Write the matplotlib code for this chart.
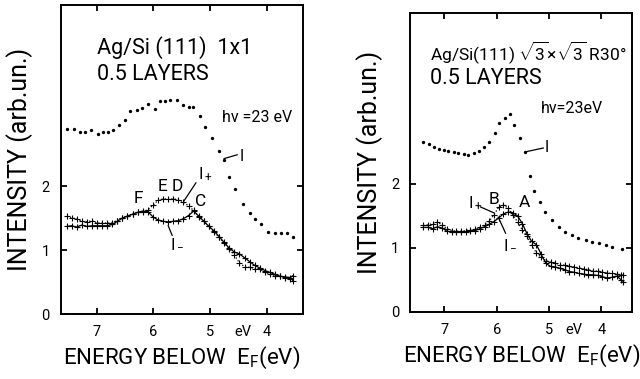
import numpy as np
import matplotlib
matplotlib.use("Agg")
import matplotlib.pyplot as plt

FONT = ["Roboto", "DejaVu Sans"]
plt.rcParams["font.family"] = FONT
plt.rcParams["mathtext.fontset"] = "custom"
plt.rcParams["mathtext.rm"] = "Roboto"
plt.rcParams["mathtext.it"] = "Roboto"

# --- left panel: Ag/Si(111) 1x1 ---
e_tot_a = [7.53, 7.41, 7.30, 7.21, 7.11, 6.99, 6.90, 6.80, 6.71, 6.61, 6.50, 6.42, 6.30,
           6.20, 6.09, 5.97, 5.88, 5.80, 5.70, 5.59, 5.48, 5.38, 5.30, 5.18, 5.08, 4.97,
           4.85, 4.76, 4.66, 4.56, 4.42, 4.30, 4.20, 4.10, 3.97, 3.85, 3.75, 3.64, 3.54]
i_tot_a = [2.90, 2.90, 2.85, 2.85, 2.87, 2.81, 2.85, 2.85, 2.87, 2.95, 3.04, 3.17, 3.19,
           3.22, 3.28, 3.21, 3.33, 3.33, 3.34, 3.34, 3.27, 3.24, 3.24, 3.09, 2.93, 2.75,
           2.55, 2.41, 2.15, 1.96, 1.72, 1.58, 1.48, 1.41, 1.29, 1.26, 1.26, 1.26, 1.20]

e_pm_a = [7.53, 7.45, 7.36, 7.27, 7.18, 7.09, 7.00, 6.91, 6.82, 6.73, 6.64, 6.55, 6.46,
          6.37, 6.28, 6.19, 6.10, 6.01, 5.92, 5.83, 5.74, 5.65, 5.56, 5.47, 5.38, 5.29,
          5.20, 5.11, 5.02, 4.93, 4.84, 4.75, 4.66, 4.57, 4.48, 4.39, 4.30, 4.21, 4.12,
          4.03, 3.94, 3.85, 3.76, 3.67, 3.58, 3.53]
i_plus_a = [1.53, 1.50, 1.49, 1.45, 1.44, 1.46, 1.42, 1.43, 1.42, 1.43, 1.46, 1.50, 1.53,
            1.57, 1.59, 1.60, 1.63, 1.70, 1.78, 1.80, 1.80, 1.80, 1.79, 1.75, 1.69, 1.62,
            1.52, 1.45, 1.37, 1.29, 1.20, 1.11, 1.02, 0.92, 0.80, 0.74, 0.73, 0.71, 0.70,
            0.66, 0.62, 0.60, 0.60, 0.57, 0.55, 0.52]
i_minus_a = [1.37, 1.38, 1.36, 1.39, 1.37, 1.38, 1.38, 1.38, 1.38, 1.40, 1.45, 1.50, 1.53,
             1.56, 1.59, 1.61, 1.60, 1.52, 1.47, 1.45, 1.44, 1.45, 1.46, 1.49, 1.54, 1.61,
             1.53, 1.45, 1.37, 1.30, 1.21, 1.12, 1.03, 0.97, 0.94, 0.88, 0.82, 0.76, 0.72,
             0.68, 0.65, 0.62, 0.59, 0.58, 0.57, 0.60]

# --- right panel: Ag/Si(111) sqrt3 x sqrt3 R30 ---
e_tot_b = [7.40, 7.30, 7.20, 7.11, 7.01, 6.92, 6.82, 6.73, 6.63, 6.54, 6.44, 6.34, 6.24,
           6.14, 6.04, 5.95, 5.85, 5.75, 5.66, 5.55, 5.45, 5.37, 5.28, 5.17, 5.07, 4.94,
           4.81, 4.69, 4.56, 4.44, 4.30, 4.18, 4.05, 3.92, 3.79, 3.60]
i_tot_b = [2.65, 2.62, 2.57, 2.55, 2.53, 2.52, 2.50, 2.48, 2.47, 2.45, 2.48, 2.52, 2.58,
           2.66, 2.80, 2.95, 3.03, 3.09, 2.92, 2.72, 2.50, 2.13, 1.89, 1.72, 1.56, 1.43,
           1.33, 1.25, 1.20, 1.15, 1.12, 1.09, 1.07, 1.05, 1.02, 0.98]

e_pm_b = [7.40, 7.31, 7.22, 7.13, 7.04, 6.95, 6.86, 6.77, 6.68, 6.59, 6.50, 6.41, 6.32,
          6.23, 6.14, 6.05, 5.96, 5.87, 5.78, 5.69, 5.60, 5.51, 5.42, 5.33, 5.24, 5.15,
          5.06, 4.97, 4.88, 4.79, 4.70, 4.61, 4.52, 4.43, 4.34, 4.25, 4.16, 4.07, 3.98,
          3.89, 3.80, 3.71, 3.62, 3.58]
i_plus_b = [1.35, 1.36, 1.38, 1.40, 1.36, 1.30, 1.27, 1.26, 1.26, 1.27, 1.28, 1.29, 1.32,
            1.36, 1.42, 1.52, 1.64, 1.67, 1.62, 1.52, 1.40, 1.28, 1.18, 1.04, 0.92, 0.85,
            0.80, 0.78, 0.76, 0.74, 0.73, 0.71, 0.70, 0.69, 0.67, 0.66, 0.64, 0.64, 0.62,
            0.61, 0.60, 0.59, 0.58, 0.57]
i_minus_b = [1.32, 1.32, 1.30, 1.33, 1.31, 1.26, 1.25, 1.25, 1.25, 1.25, 1.26, 1.27, 1.30,
             1.33, 1.37, 1.41, 1.47, 1.53, 1.56, 1.55, 1.50, 1.38, 1.22, 1.10, 1.05, 0.90,
             0.76, 0.71, 0.70, 0.68, 0.66, 0.63, 0.62, 0.60, 0.59, 0.58, 0.58, 0.57, 0.55,
             0.53, 0.54, 0.56, 0.50, 0.47]

x_ticks = [7, 6, 5, 4]
x_labels = ["7", "6", "5", "4"]
y_ticks = [0, 1, 2]

fig = plt.figure(figsize=(6.4, 3.79), dpi=100)
ax1 = fig.add_axes([0.095, 0.1715, 0.378, 0.815])
ax2 = fig.add_axes([0.641, 0.177, 0.347, 0.789])


def style_axes(ax, xlim, ylim, ev_pos):
    ax.set_xlim(*xlim)
    ax.set_ylim(*ylim)
    ax.set_xticks(x_ticks)
    ax.set_xticklabels(x_labels)
    # "eV" unit sits among the tick labels, as an unmarked minor tick
    ax.set_xticks([ev_pos], minor=True)
    ax.set_xticklabels(["eV"], minor=True)
    ax.set_yticks(y_ticks)
    ax.tick_params(which="major", direction="in", top=True, right=True, length=4,
                   width=1.3, labelsize=10.5, pad=8)
    ax.tick_params(which="minor", length=0, labelsize=10.5, pad=8, top=False)
    for s in ax.spines.values():
        s.set_linewidth(1.4)
    ax.set_ylabel("INTENSITY (arb.un.)", fontsize=18, labelpad=6)
    ax.set_xlabel(r"ENERGY BELOW  E$_\mathrm{F}$(eV)", fontsize=16, labelpad=4)


def draw(ax, e_tot, i_tot, e_pm, i_plus, i_minus):
    ax.plot(e_tot, i_tot, ls="none", marker=".", ms=2.8, color="black")
    ax.plot(e_pm, i_plus, ls=":", lw=0.9, marker="+", ms=4, mew=0.8, color="black")
    ax.plot(e_pm, i_minus, ls="-", lw=0.9, marker="+", ms=4, mew=0.8, color="black")


draw(ax1, e_tot_a, i_tot_a, e_pm_a, i_plus_a, i_minus_a)
style_axes(ax1, (7.64, 3.36), (0, 4.83), 4.42)
draw(ax2, e_tot_b, i_tot_b, e_pm_b, i_plus_b, i_minus_b)
style_axes(ax2, (7.65, 3.41), (0, 4.67), 4.52)

# left annotations
ax1.text(7.0, 4.16, "Ag/Si (111)  1x1", fontsize=15.5, va="center")
ax1.text(7.0, 3.74, "0.5 LAYERS", fontsize=15.5, va="center")
ax1.text(4.78, 3.08, "hν =23 eV", fontsize=11.5, va="center")
ax1.plot([4.75, 4.52], [2.43, 2.49], color="black", lw=0.9)
ax1.text(4.47, 2.47, "I", fontsize=11.5, va="center")
ax1.text(5.92, 1.99, "E D", fontsize=12.5, va="center")
ax1.text(6.36, 1.81, "F", fontsize=12.5, va="center")
ax1.text(5.27, 1.76, "C", fontsize=12.5, va="center")
ax1.plot([5.46, 5.25], [1.77, 2.05], color="black", lw=0.9)
ax1.text(5.21, 2.20, r"I$_+$", fontsize=12, va="center")
ax1.plot([5.74, 5.67], [1.38, 1.23], color="black", lw=0.9)
ax1.text(5.71, 1.11, r"I$_-$", fontsize=12, va="center")

# right annotations
ax2.text(7.27, 4.05, r"Ag/Si(111) $\sqrt{3}$×$\sqrt{3}$ R30°", fontsize=12.5, va="center")
ax2.text(7.27, 3.65, "0.5 LAYERS", fontsize=15.5, va="center")
ax2.text(5.16, 3.17, "hν=23eV", fontsize=11.5, va="center")
ax2.plot([5.45, 5.11], [2.50, 2.56], color="black", lw=0.9)
ax2.text(5.09, 2.56, "I", fontsize=11.5, va="center")
ax2.text(6.54, 1.71, r"I$_+$", fontsize=12, va="center")
ax2.plot([6.31, 6.06], [1.64, 1.55], color="black", lw=0.9)
ax2.text(6.16, 1.75, "B", fontsize=12.5, va="center")
ax2.text(5.58, 1.71, "A", fontsize=12.5, va="center")
ax2.plot([5.97, 5.83], [1.48, 1.23], color="black", lw=0.9)
ax2.text(5.87, 1.05, r"I$_-$", fontsize=12, va="center")

fig.savefig("out.png", dpi=100)
